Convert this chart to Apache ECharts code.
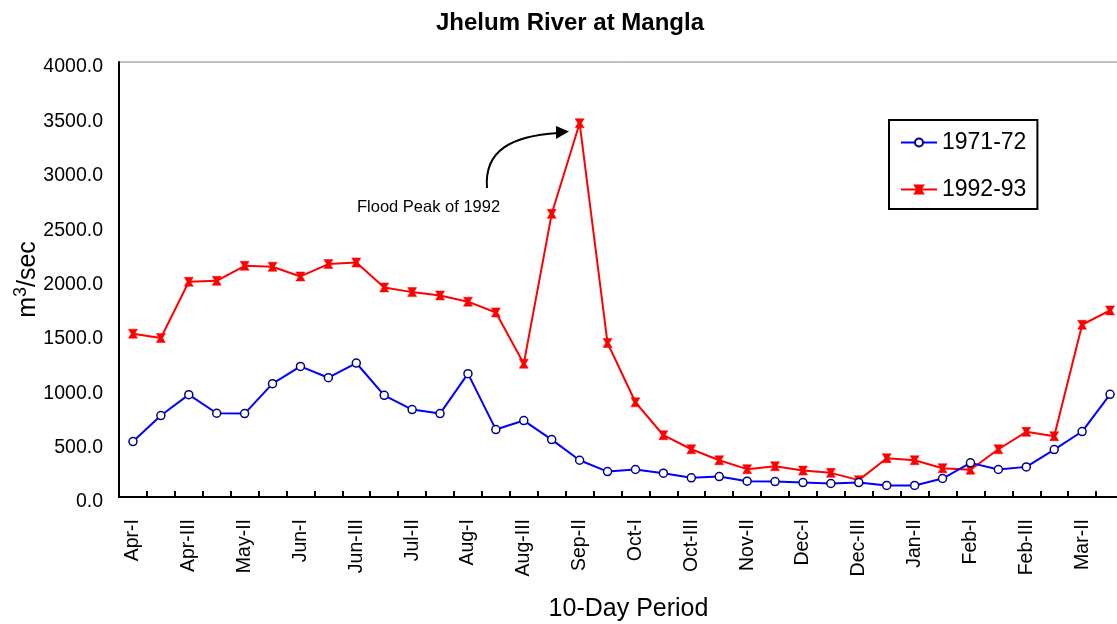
<!DOCTYPE html>
<html>
<head>
<meta charset="utf-8">
<script src="https://cdn.jsdelivr.net/npm/echarts@6/dist/echarts.min.js"></script>
<style>
  html, body { margin: 0; padding: 0; background: #fff; }
  #main { width: 1117px; height: 624px; }
</style>
</head>
<body>
<div id="main"></div>
<script>
// 10-day periods, April to March
var periods = [
  "Apr-I", "Apr-II", "Apr-III", "May-I", "May-II", "May-III",
  "Jun-I", "Jun-II", "Jun-III", "Jul-I", "Jul-II", "Jul-III",
  "Aug-I", "Aug-II", "Aug-III", "Sep-I", "Sep-II", "Sep-III",
  "Oct-I", "Oct-II", "Oct-III", "Nov-I", "Nov-II", "Nov-III",
  "Dec-I", "Dec-II", "Dec-III", "Jan-I", "Jan-II", "Jan-III",
  "Feb-I", "Feb-II", "Feb-III", "Mar-I", "Mar-II", "Mar-III"
];
var flow1971 = [
  510, 749, 941, 770, 767, 1042, 1201, 1097, 1232, 935, 804, 767,
  1134, 620, 703, 528, 338, 234, 253, 219, 176, 188, 145, 142,
  133, 124, 133, 106, 106, 170, 314, 253, 277, 436, 602, 944
];
var flow1992 = [
  1502, 1462, 1979, 1988, 2126, 2117, 2028, 2142, 2157, 1927, 1884, 1853,
  1796, 1697, 1226, 2604, 3437, 1416, 871, 568, 439, 338, 256, 283,
  243, 222, 155, 357, 338, 265, 250, 439, 599, 559, 1584, 1716
];
var yTicks = { min: 0, max: 4000, step: 500 };

var font = "Liberation Sans, Arial, sans-serif";
var chart = echarts.init(document.getElementById("main"));

var option = {
  backgroundColor: "#fff",
  animation: false,
  textStyle: { fontFamily: font, color: "#000" },
  title: {
    text: "Jhelum River at Mangla",
    left: 565,
    textAlign: "center",
    top: 6,
    textStyle: { fontFamily: font, fontSize: 24, fontWeight: "bold", color: "#000" }
  },
  legend: {
    orient: "vertical",
    left: 889,
    top: 120,
    padding: [11, 11, 8, 11],
    itemGap: 24,
    itemWidth: 36,
    itemHeight: 10,
    borderColor: "#000",
    borderWidth: 2,
    backgroundColor: "#fff",
    textStyle: { fontFamily: font, fontSize: 23, color: "#000" },
    data: ["1971-72", "1992-93"]
  },
  grid: {
    left: 119,
    top: 62,
    right: -7,
    bottom: 127,
    outerBoundsMode: "none",
    show: true,
    borderColor: "#808080",
    borderWidth: 1,
    backgroundColor: "transparent"
  },
  xAxis: {
    type: "category",
    data: periods,
    boundaryGap: true,
    name: "10-Day Period",
    nameLocation: "middle",
    nameGap: 100,
    nameMoveOverlap: false,
    nameTextStyle: { fontFamily: font, fontSize: 25, color: "#000", padding: [0, 0, 0, 14] },
    axisLine: { show: true, lineStyle: { color: "#000", width: 2 } },
    axisTick: { show: true, inside: true, length: 6, interval: 0, lineStyle: { color: "#000", width: 2 } },
    axisLabel: {
      interval: 1,
      rotate: 90,
      margin: 22,
      fontFamily: font,
      fontSize: 19.5,
      color: "#000"
    },
    splitLine: { show: false }
  },
  yAxis: {
    type: "value",
    min: yTicks.min,
    max: yTicks.max,
    interval: yTicks.step,
    name: "m{sup|3}/sec",
    nameLocation: "middle",
    nameGap: 75,
    nameMoveOverlap: false,
    nameTextStyle: {
      fontFamily: font,
      fontSize: 25,
      color: "#000",
      rich: {
        sup: { fontFamily: font, fontSize: 18, verticalAlign: "top", padding: [0, 0, 14, 0], color: "#000" }
      }
    },
    axisLine: { show: true, lineStyle: { color: "#000", width: 2 } },
    axisTick: { show: false },
    axisLabel: {
      margin: 16,
      verticalAlign: "top",
      lineHeight: 10,
      fontFamily: font,
      fontSize: 19.5,
      color: "#000",
      formatter: function (v) { return v.toFixed(1); }
    },
    splitLine: { show: false }
  },
  series: [
    {
      name: "1971-72",
      type: "line",
      data: flow1971,
      symbol: "circle",
      symbolSize: 8,
      showAllSymbol: true,
      lineStyle: { color: "#0000ff", width: 2 },
      itemStyle: { color: "#ffffff", borderColor: "#000080", borderWidth: 1.5 },
      z: 3
    },
    {
      name: "1992-93",
      type: "line",
      data: flow1992,
      symbol: "path://M0,0L10,0L7,5L10,10L0,10L3,5Z",
      symbolSize: 9,
      showAllSymbol: true,
      lineStyle: { color: "#ff0000", width: 2 },
      itemStyle: { color: "#ff0000", borderColor: "#ff0000", borderWidth: 0.5 },
      z: 2
    }
  ],
  graphic: [
    {
      type: "text",
      left: 357,
      top: 199,
      style: { text: "Flood Peak of 1992", fontFamily: font, fontSize: 16.5, fill: "#000" }
    },
    {
      type: "bezierCurve",
      shape: { x1: 487, y1: 188, cpx1: 484, cpy1: 150, cpx2: 512, cpy2: 136, x2: 558, y2: 133 },
      style: { stroke: "#000", lineWidth: 2, fill: null }
    },
    {
      type: "polygon",
      shape: { points: [[556, 126], [569, 131.5], [556, 139]] },
      style: { fill: "#000" }
    }
  ]
};

chart.setOption(option);
</script>
</body>
</html>
